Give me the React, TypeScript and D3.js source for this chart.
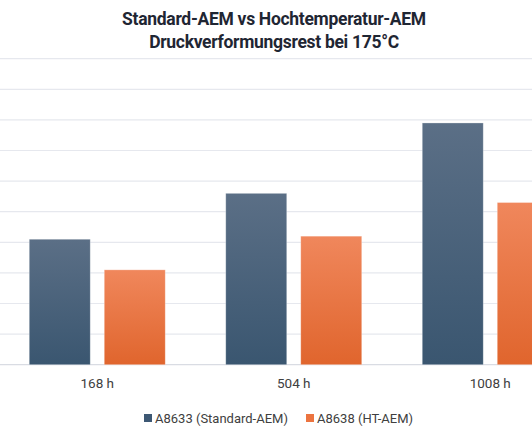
import * as d3 from "d3"

const categories = ["168 h", "504 h", "1008 h"]
const seriesNames = ["A8633 (Standard-AEM)", "A8638 (HT-AEM)"]
const standardValues = [41, 56, 79]
const htValues = [31, 42, 53]
const yTicks = [0, 10, 20, 30, 40, 50, 60, 70, 80, 90, 100]
const titleLines = ["Standard-AEM vs Hochtemperatur-AEM", "Druckverformungsrest bei 175°C"]

const WIDTH = 532
const HEIGHT = 429
const FONT = "Roboto, 'Noto Sans', sans-serif"

const seriesKeys = ["standard", "ht"]
const gradients = [
  { id: "gradBlue", top: "#5b6f86", bottom: "#3a5670" },
  { id: "gradOrange", top: "#f0875c", bottom: "#e0652d" },
]
const legendColors = ["#3d5874", "#ec7440"]

const rows = categories.map((c, i) => ({
  category: c,
  standard: standardValues[i],
  ht: htValues[i],
}))

export default function App() {
  const x0 = d3
    .scaleBand()
    .domain(categories)
    .range([-1, 588.5])
    .paddingInner(0.308)
    .paddingOuter(0.154)

  const x1 = d3
    .scaleBand()
    .domain(seriesKeys)
    .range([0, x0.bandwidth()])
    .paddingInner(0.187)

  const y = d3.scaleLinear().domain([0, 100]).range([364.7, 58.7])

  return (
    <div style={{ position: "absolute", left: 0, top: 0 }}>
      <svg width={WIDTH} height={HEIGHT} style={{ display: "block", background: "#fff" }}>
        <defs>
          {gradients.map((g) => (
            <linearGradient key={g.id} id={g.id} x1="0" y1="0" x2="0" y2="1">
              <stop offset="0%" stopColor={g.top} />
              <stop offset="100%" stopColor={g.bottom} />
            </linearGradient>
          ))}
        </defs>

        {titleLines.map((t, i) => (
          <text
            key={i}
            x={274}
            y={25 + i * 23}
            textAnchor="middle"
            fontFamily={FONT}
            fontWeight={700}
            fontSize={17.5}
            letterSpacing={-0.3}
            fill="#1f2633"
          >
            {t}
          </text>
        ))}

        {yTicks.map((t) => (
          <line
            key={t}
            x1={0}
            x2={WIDTH}
            y1={y(t)}
            y2={y(t)}
            stroke={t === 0 ? "#d9dce3" : "#e6e8ee"}
            strokeWidth={1.2}
          />
        ))}

        {rows.map((r) => (
          <g key={r.category} transform={`translate(${x0(r.category)},0)`}>
            {seriesKeys.map((k, j) => {
              const v = (r as any)[k] as number
              return (
                <rect
                  key={k}
                  x={x1(k)}
                  y={y(v)}
                  width={x1.bandwidth()}
                  height={y(0) - y(v)}
                  fill={`url(#${gradients[j].id})`}
                  stroke="#ffffff"
                  strokeOpacity={0.35}
                  strokeWidth={0.8}
                />
              )
            })}
            <text
              x={x0.bandwidth() / 2}
              y={388}
              textAnchor="middle"
              fontFamily={FONT}
              fontSize={13.5}
              fill="#404040"
            >
              {r.category}
            </text>
          </g>
        ))}

        {seriesNames.map((s, i) => {
          const lx = [144, 306][i]
          return (
            <g key={s} transform={`translate(${lx},414)`}>
              <rect width={8} height={8} fill={legendColors[i]} />
              <text x={11} y={8.5} fontFamily={FONT} fontSize={13} fill="#404040">
                {s}
              </text>
            </g>
          )
        })}
      </svg>
    </div>
  )
}
